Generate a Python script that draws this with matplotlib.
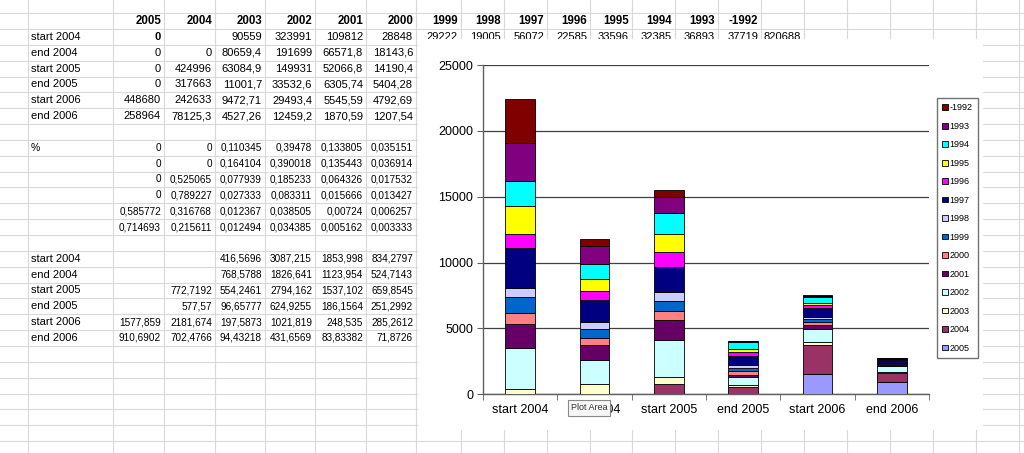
import matplotlib
matplotlib.use("Agg")
import matplotlib.pyplot as plt
from matplotlib.patches import Rectangle

plt.rcParams['font.family'] = ['Liberation Sans', 'DejaVu Sans']

# --- spreadsheet data (as displayed) ---
years = ["2005", "2004", "2003", "2002", "2001", "2000",
         "1999", "1998", "1997", "1996", "1995", "1994", "1993", "-1992"]
rows = ["start 2004", "end 2004", "start 2005", "end 2005", "start 2006", "end 2006"]

raw_first = ["0", "", "90559", "323991", "109812", "28848",
             "29222", "19005", "56072", "22585", "33596", "32385", "36893", "37719", "820688"]
raw_rest = [
    ["0", "0", "80659,4", "191699", "66571,8", "18143,6"],
    ["0", "424996", "63084,9", "149931", "52066,8", "14190,4"],
    ["0", "317663", "11001,7", "33532,6", "6305,74", "5404,28"],
    ["448680", "242633", "9472,71", "29493,4", "5545,59", "4792,69"],
    ["258964", "78125,3", "4527,26", "12459,2", "1870,59", "1207,54"],
]
pct = [
    ["0", "0", "0,110345", "0,39478", "0,133805", "0,035151"],
    ["0", "0", "0,164104", "0,390018", "0,135443", "0,036914"],
    ["0", "0,525065", "0,077939", "0,185233", "0,064326", "0,017532"],
    ["0", "0,789227", "0,027333", "0,083311", "0,015666", "0,013427"],
    ["0,585772", "0,316768", "0,012367", "0,038505", "0,00724", "0,006257"],
    ["0,714693", "0,215611", "0,012494", "0,034385", "0,005162", "0,003333"],
]
weighted = [
    ["", "", "416,5696", "3087,215", "1853,998", "834,2797"],
    ["", "", "768,5788", "1826,641", "1123,954", "524,7143"],
    ["", "772,7192", "554,2461", "2794,162", "1537,102", "659,8545"],
    ["", "577,57", "96,65777", "624,9255", "186,1564", "251,2992"],
    ["1577,859", "2181,674", "197,5873", "1021,819", "248,535", "285,2612"],
    ["910,6902", "702,4766", "94,43218", "431,6569", "83,83382", "71,8726"],
]

# --- chart series (stacked, bottom to top) ---
categories = rows
v2005 = [0, 0, 0, 0, 1577.859, 910.6902]
v2004 = [0, 0, 772.7192, 577.57, 2181.674, 702.4766]
v2003 = [416.5696, 768.5788, 554.2461, 96.65777, 197.5873, 94.43218]
v2002 = [3087.215, 1826.641, 2794.162, 624.9255, 1021.819, 431.6569]
v2001 = [1853.998, 1123.954, 1537.102, 186.1564, 248.535, 83.83382]
v2000 = [834.2797, 524.7143, 659.8545, 251.2992, 285.2612, 71.8726]
v1999 = [1166, 739, 785, 267, 220, 40]
v1998 = [740, 480, 686, 203, 150, 30]
v1997 = [3018, 1677, 1860, 686, 700, 250]
v1996 = [1067, 739, 1189, 330, 200, 30]
v1995 = [2088, 892, 1326, 203, 150, 20]
v1994 = [1951, 1090, 1601, 508, 450, 40]
v1993 = [2851, 1395, 1220, 76, 80, 20]
v1992 = [3323, 511, 503, 50, 60, 20]
series = [v2005, v2004, v2003, v2002, v2001, v2000, v1999,
          v1998, v1997, v1996, v1995, v1994, v1993, v1992]
colors = ["#9999FF", "#993366", "#FFFFCC", "#CCFFFF", "#660066", "#FF8080", "#0066CC",
          "#CCCCFF", "#000080", "#FF00FF", "#FFFF00", "#00FFFF", "#800080", "#800000"]

fig = plt.figure(figsize=(10.24, 4.53), dpi=100)

# spreadsheet background in pixel coordinates
bg = fig.add_axes([0, 0, 1, 1])
bg.set_xlim(0, 1024)
bg.set_ylim(453, 0)
bg.axis("off")

col_right = [164, 215, 265, 315, 366, 416, 461, 504, 547, 590, 632, 675, 718, 761, 804]
grid_x = [28, 113] + col_right + [847, 890, 933, 976, 1019]
row_h = 15.85
for x in grid_x:
    bg.axvline(x, color="#D9D9D9", lw=0.8, zorder=0)
k = -1
while 13.1 + row_h * k < 453:
    bg.axhline(13.1 + row_h * k, color="#D9D9D9", lw=0.8, zorder=0)
    k += 1

def row_y(i):
    return 21 + row_h * i

# header row
for j, yr in enumerate(years):
    bg.text(col_right[j] - 3, row_y(0), yr, ha="right", va="center",
            fontsize=8.3, fontweight="bold")
# first table
for i, lab in enumerate(rows):
    bg.text(31, row_y(1 + i), lab, ha="left", va="center", fontsize=8)
for j, s in enumerate(raw_first):
    bg.text(col_right[j] - 3, row_y(1), s, ha="right", va="center", fontsize=8,
            fontweight="bold" if j == 0 else "normal")
for i, r in enumerate(raw_rest):
    for j, s in enumerate(r):
        bg.text(col_right[j] - 3, row_y(2 + i), s, ha="right", va="center", fontsize=8)
# percentage table
bg.text(31, row_y(8), "%", ha="left", va="center", fontsize=7.5)
for i, r in enumerate(pct):
    for j, s in enumerate(r):
        bg.text(col_right[j] - 3, row_y(8 + i), s, ha="right", va="center", fontsize=7.2)
# weighted table
for i, lab in enumerate(rows):
    bg.text(31, row_y(15 + i), lab, ha="left", va="center", fontsize=8)
    for j, s in enumerate(weighted[i]):
        bg.text(col_right[j] - 3, row_y(15 + i), s, ha="right", va="center", fontsize=7.2)

# white chart area over the sheet (clips the first data row a little)
bg.add_patch(Rectangle((418, 39), 565, 391, facecolor="white", edgecolor="none", zorder=5))

# --- chart ---
ax = fig.add_axes([483 / 1024, (453 - 394.3) / 453, 446 / 1024, 329.3 / 453])
x = list(range(len(categories)))
bottom = [0] * len(categories)
handles = []
for yr, vals, c in zip(years, series, colors):
    b = ax.bar(x, vals, width=0.4, bottom=bottom, color=c, edgecolor="black",
               linewidth=0.6, label=yr, zorder=3)
    handles.append(b)
    bottom = [bo + v for bo, v in zip(bottom, vals)]

ax.set_xlim(-0.5, len(categories) - 0.5)
ax.set_ylim(0, 25000)
ax.set_yticks(range(0, 25001, 5000))
ax.yaxis.grid(True, color="#404040", linewidth=0.9, zorder=0)
ax.set_axisbelow(True)
ax.set_xticks(x)
ax.set_xticklabels(categories)
ax.set_xticks([i + 0.5 for i in range(-1, len(categories))], minor=True)
ax.tick_params(axis="x", which="major", length=0, pad=7, labelsize=9)
ax.tick_params(axis="x", which="minor", length=4, direction="out", color="#606060")
ax.tick_params(axis="y", length=4, direction="out", pad=3, labelsize=9, color="#606060")
for sp in ["top", "right"]:
    ax.spines[sp].set_visible(False)
for sp in ["left", "bottom"]:
    ax.spines[sp].set_color("#606060")
    ax.spines[sp].set_linewidth(1.0)

leg = ax.legend(handles[::-1], years[::-1], loc="upper left",
                bbox_to_anchor=(937 / 1024, 1 - 98 / 453), bbox_transform=fig.transFigure,
                fontsize=6.5, frameon=True, fancybox=False, handlelength=0.6,
                handleheight=0.6, handletextpad=0.2, labelspacing=1.05,
                borderpad=0.6, borderaxespad=0)
leg.get_frame().set_edgecolor("#505050")
leg.get_frame().set_linewidth(1.0)

# tooltip shown over the second category label in the screenshot
fig.text(589 / 1024, 1 - 408 / 453, "Plot Area", ha="center", va="center", fontsize=6.5,
         color="#333333",
         bbox=dict(boxstyle="square,pad=0.35", facecolor="#F7F7F7", edgecolor="#888888",
                   linewidth=0.8))

fig.savefig("out.png", dpi=100)
